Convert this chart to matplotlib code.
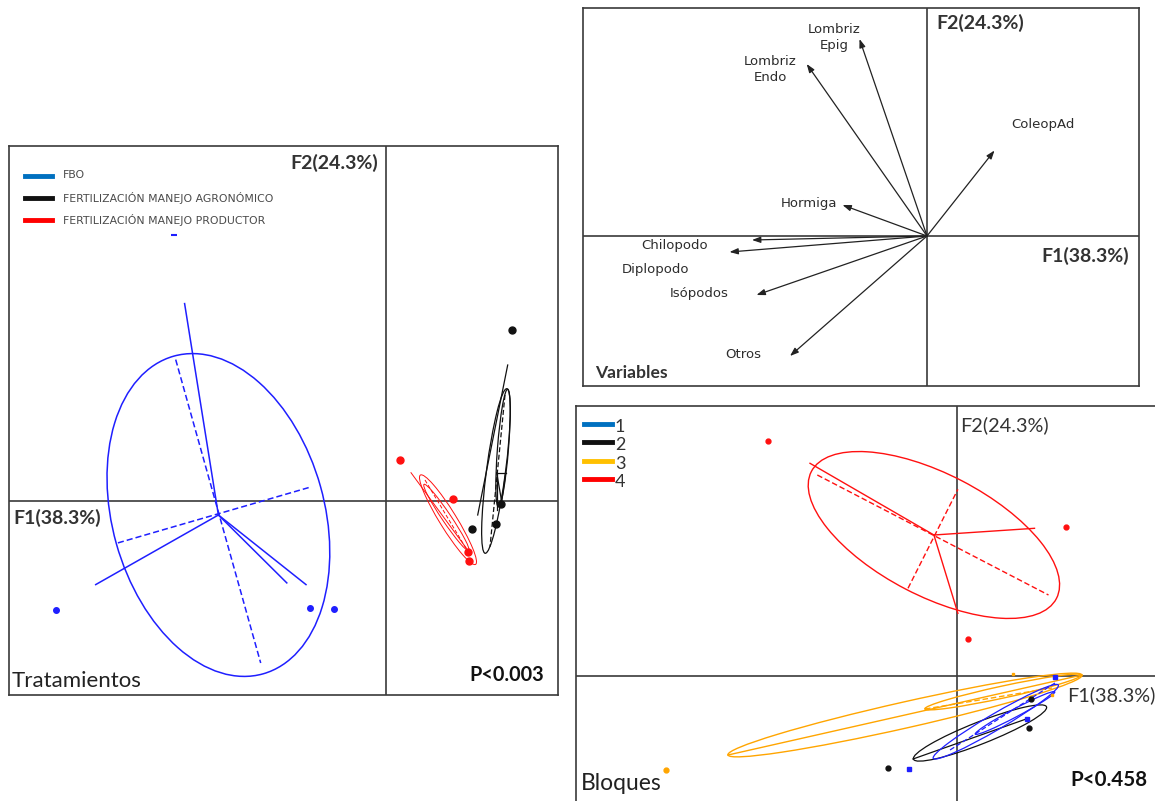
import matplotlib
matplotlib.use("Agg")
import matplotlib.pyplot as plt
from matplotlib.patches import Ellipse

# ---------------------------------------------------------------
# Panel "Tratamientos": observation scores on F1 / F2
# ---------------------------------------------------------------
trt_names = ["FBO", "FERTILIZACIÓN MANEJO AGRONÓMICO", "FERTILIZACIÓN MANEJO PRODUCTOR"]
fbo_f1 = [-3.30, -0.76, -0.52]
fbo_f2 = [-1.09, -1.07, -1.08]
fbo_extra_f1 = [-2.12]
fbo_extra_f2 = [2.66]
agr_f1 = [1.256, 1.149, 1.099, 0.859]
agr_f2 = [1.702, -0.035, -0.238, -0.285]
prod_f1 = [0.139, 0.666, 0.816, 0.829]
prod_f2 = [0.405, 0.018, -0.512, -0.608]

# confidence ellipses: centre F1, centre F2, width, height, angle
fbo_ell = [(-1.68, -0.145, 3.30, 2.12, -74.3)]
agr_ell = [(1.096, 0.295, 1.66, 0.19, 82.5), (1.166, 0.525, 1.18, 0.11, 85.5)]
prod_ell = [(0.616, -0.192, 1.05, 0.17, -58.3), (0.60, -0.17, 0.80, 0.09, -56.0)]

# star rays from group centroid (solid) and ellipse axes (dashed)
fbo_rays_f1 = [-2.018, -2.907, -0.996, -0.804]
fbo_rays_f2 = [1.969, -0.841, -0.824, -0.841]
fbo_axes = [((-2.107, 1.409), (-1.257, -1.625)), ((-2.685, -0.424), (-0.757, 0.135))]
agr_solid = [((1.213, 1.355), (0.913, -0.145)), ((1.103, 0.278), (1.193, 0.278)),
             ((1.193, 0.278), (1.153, -0.012)), ((1.153, -0.012), (1.103, 0.278)),
             ((1.103, 0.278), (1.103, -0.095))]
agr_dashed = [((1.186, 1.055), (1.036, -0.462))]
prod_solid = [((0.246, 0.278), (0.813, -0.495))]
prod_dashed = [((0.386, 0.205), (0.836, -0.545))]

# ---------------------------------------------------------------
# Panel "Variables": loadings of each taxon on F1 / F2
# ---------------------------------------------------------------
var_names = ["Lombriz\nEpig", "Lombriz\nEndo", "ColeopAd", "Hormiga",
             "Chilopodo", "Diplopodo", "Isópodos", "Otros"]
var_f1 = [-0.675, -1.203, 0.675, -0.845, -1.75, -1.975, -1.705, -1.37]
var_f2 = [1.97, 1.72, 0.855, 0.31, -0.04, -0.16, -0.59, -1.20]

# ---------------------------------------------------------------
# Panel "Bloques": scores grouped by block
# ---------------------------------------------------------------
blk_labels = ["1", "2", "3", "4"]
b1_f1 = [-0.476, 0.70, 0.98]
b1_f2 = [-0.93, -0.43, -0.013]
b2_f1 = [-0.686, 0.723, 0.738]
b2_f2 = [-0.923, -0.523, -0.23]
b3_f1 = [-2.906]
b3_f2 = [-0.94]
b3_small_f1 = [0.564, 0.95]
b3_small_f2 = [0.02, -0.19]
b4_f1 = [-1.889, 1.086, 0.105]
b4_f2 = [2.353, 1.493, 0.37]

b1_ell = [(0.388, -0.457, 1.45, 0.16, 30.4), (0.58, -0.37, 0.90, 0.08, 28.0)]
b2_ell = [(0.23, -0.57, 1.43, 0.22, 21.5)]
b3_ell = [(-0.52, -0.39, 3.63, 0.26, 12.7), (0.46, -0.16, 1.60, 0.12, 12.2)]
b4_ell = [(-0.231, 1.41, 2.76, 1.22, -27.4)]

b4_rays_f1 = [-1.47, 0.775, 0.009]
b4_rays_f2 = [2.127, 1.477, 0.627]
b4_axes = [((-1.397, 2.01), (0.915, 0.81)), ((-0.49, 0.877), (0.009, 1.867))]
b3_solid = [((-2.29, -0.79), (1.25, 0.01))]
b3_dashed = [((-0.32, -0.33), (0.95, -0.12))]
b2_solid = [((-0.44, -0.83), (0.72, -0.42))]
b1_dashed = [((-0.07, -0.74), (0.98, -0.07))]

# ---------------------------------------------------------------
W, H = 1155, 801
fig = plt.figure(figsize=(W / 100, H / 100), dpi=100)

BLUE = "#1f1fff"
RED = "#ff1010"
BLACK = "#111111"
ORANGE = "#ffa500"
FRAME = "#3a3a3a"
TXT = "#333333"
BOLD_FONT = ["Lato", "DejaVu Sans"]
REG_FONT = ["Lato", "DejaVu Sans"]


def panel(left, top, right, bottom, ox, oy):
    ax = fig.add_axes([left / W, 1 - bottom / H, (right - left) / W, (bottom - top) / H])
    ax.set_xlim((left - ox) / 100, (right - ox) / 100)
    ax.set_ylim((oy - bottom) / 100, (oy - top) / 100)
    ax.set_xticks([])
    ax.set_yticks([])
    for s in ax.spines.values():
        s.set_color(FRAME)
        s.set_linewidth(1.2)
    ax.axhline(0, color=FRAME, lw=1.2, zorder=1)
    ax.axvline(0, color=FRAME, lw=1.2, zorder=1)
    return ax


def ptext(x, y, s, **kw):
    fig.text(x / W, 1 - y / H, s, **kw)


def draw_ellipses(ax, specs, color, lw=0.9):
    for cx, cy, w, h, a in specs:
        ax.add_patch(Ellipse((cx, cy), w, h, angle=a, fill=False,
                             edgecolor=color, lw=lw, zorder=3))


def draw_segments(ax, segs, color, ls="-", lw=0.9):
    for (x0, y0), (x1, y1) in segs:
        line, = ax.plot([x0, x1], [y0, y1], color=color, lw=lw, zorder=3)
        if ls == "--":
            line.set_dashes((4, 2))


def draw_rays(ax, centre, xs, ys, color, lw=0.9):
    for x, y in zip(xs, ys):
        ax.plot([centre[0], x], [centre[1], y], color=color, lw=lw, zorder=3)


# ---------------- Tratamientos ----------------
ax1 = panel(9, 146, 558, 695, 386.4, 500.5)
draw_ellipses(ax1, fbo_ell, BLUE, lw=1.1)
draw_rays(ax1, fbo_ell[0][:2], fbo_rays_f1, fbo_rays_f2, BLUE, lw=1.1)
draw_segments(ax1, fbo_axes, BLUE, ls="--", lw=1.1)
ax1.plot(fbo_f1, fbo_f2, "o", color=BLUE, ms=4, zorder=4)
ax1.plot(fbo_extra_f1, fbo_extra_f2, "_", color=BLUE, ms=4, mew=1.5, zorder=4)

draw_ellipses(ax1, agr_ell, BLACK, lw=0.9)
draw_segments(ax1, agr_solid, BLACK)
draw_segments(ax1, agr_dashed, BLACK, ls="--")
ax1.plot(agr_f1, agr_f2, "o", color=BLACK, ms=5, zorder=4)

draw_ellipses(ax1, prod_ell, RED, lw=0.7)
draw_segments(ax1, prod_solid, RED, lw=0.7)
draw_segments(ax1, prod_dashed, RED, ls="--", lw=0.7)
ax1.plot(prod_f1, prod_f2, "o", color=RED, ms=5, zorder=4)

leg_cols = ["#0070c0", BLACK, "#ff0000"]
for i, (name, c) in enumerate(zip(trt_names, leg_cols)):
    y = 175.5 + 22.2 * i
    fig.add_artist(plt.Line2D([25 / W, 52 / W], [1 - y / H, 1 - y / H], color=c, lw=3.5,
                              transform=fig.transFigure))
    ptext(63, y, name, fontsize=7.8, color="#4a4a4a", va="center", ha="left")

ptext(378, 163, "F2(24.3%)", fontsize=14, fontweight="bold", family=BOLD_FONT,
      color=TXT, ha="right", va="center")
ptext(13, 518, "F1(38.3%)", fontsize=14, fontweight="bold", family=BOLD_FONT,
      color=TXT, ha="left", va="center")
ptext(12, 681, "Tratamientos", fontsize=16, family=REG_FONT,
      color="#222222", ha="left", va="center")
ptext(544, 675, "P<0.003", fontsize=14.3, fontweight="bold", family=BOLD_FONT,
      color=BLACK, ha="right", va="center")

# ---------------- Variables ----------------
ax2 = panel(583, 8, 1139, 386, 927, 236)
for x, y in zip(var_f1, var_f2):
    ax2.annotate("", xy=(x, y), xytext=(0, 0),
                 arrowprops=dict(arrowstyle="-|>,head_length=0.5,head_width=0.18",
                                 color="#222222", lw=0.9, shrinkA=0, shrinkB=0))
var_label_px = [(834, 37.5), (770, 69.5), (1042.5, 124.5), (809.5, 204),
                (674.5, 245.5), (655.5, 269), (699.5, 293), (743, 354.5)]
for name, (px, py) in zip(var_names, var_label_px):
    ptext(px, py, name, fontsize=9.5, color="#2c2c2c", ha="center", va="center",
          linespacing=1.25)
ptext(936, 23, "F2(24.3%)", fontsize=14, fontweight="bold", family=BOLD_FONT,
      color=TXT, ha="left", va="center")
ptext(1129, 256, "F1(38.3%)", fontsize=14, fontweight="bold", family=BOLD_FONT,
      color=TXT, ha="right", va="center")
ptext(595, 373, "Variables", fontsize=12.6, fontweight="bold", family=BOLD_FONT,
      color=TXT, ha="left", va="center")

# ---------------- Bloques ----------------
ax3 = panel(576, 406, W + 6, H + 6, 957, 676)
draw_ellipses(ax3, b4_ell, RED, lw=1.0)
draw_rays(ax3, b4_ell[0][:2], b4_rays_f1, b4_rays_f2, RED, lw=1.0)
draw_segments(ax3, b4_axes, RED, ls="--", lw=1.0)
ax3.plot(b4_f1, b4_f2, "o", color=RED, ms=3.5, zorder=4)

draw_ellipses(ax3, b3_ell, ORANGE, lw=1.0)
draw_segments(ax3, b3_solid, ORANGE, lw=1.0)
draw_segments(ax3, b3_dashed, ORANGE, ls="--", lw=1.0)
ax3.plot(b3_f1, b3_f2, "o", color=ORANGE, ms=3.5, zorder=4)
ax3.plot(b3_small_f1, b3_small_f2, "s", color=ORANGE, ms=2, zorder=4)

draw_ellipses(ax3, b2_ell, BLACK, lw=0.9)
draw_segments(ax3, b2_solid, BLACK, lw=0.9)
ax3.plot(b2_f1, b2_f2, "o", color=BLACK, ms=3.5, zorder=4)

draw_ellipses(ax3, b1_ell, BLUE, lw=0.9)
draw_segments(ax3, b1_dashed, BLUE, ls="--", lw=0.9)
ax3.plot(b1_f1, b1_f2, "s", color=BLUE, ms=3, zorder=5)

blk_cols = ["#0070c0", BLACK, "#ffc000", "#ff0000"]
for i, (lab, c) in enumerate(zip(blk_labels, blk_cols)):
    y = 424 + 18.3 * i
    fig.add_artist(plt.Line2D([584 / W, 612 / W], [1 - y / H, 1 - y / H], color=c, lw=3.5,
                              transform=fig.transFigure))
    ptext(615, y + 3, lab, fontsize=13, family=REG_FONT, color=TXT,
          ha="left", va="center")

ptext(960, 425, "F2(24.3%)", fontsize=14.3, family=REG_FONT,
      color=TXT, ha="left", va="center")
ptext(1067, 695, "F1(38.3%)", fontsize=14.3, family=REG_FONT,
      color=TXT, ha="left", va="center")
ptext(1147, 780, "P<0.458", fontsize=14.8, fontweight="bold", family=BOLD_FONT,
      color=BLACK, ha="right", va="center")
ptext(581, 783, "Bloques", fontsize=16.5, family=REG_FONT,
      color="#222222", ha="left", va="center")

fig.savefig("out.png", dpi=100)
